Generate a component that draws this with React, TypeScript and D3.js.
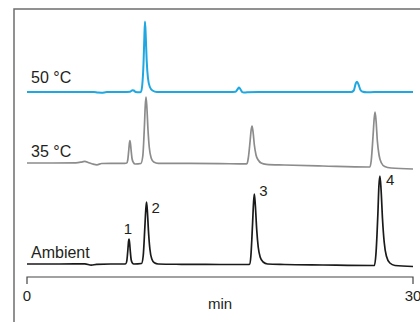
import React from "react";
import * as d3 from "d3";

// Time (min), signal (relative units above each trace's baseline)
const ambientPoints: [number, number][] = [
  [0, 0], [2.5, 0], [4.5, 0.2], [5.0, -1.2], [5.4, -0.3], [6.5, 0], [7.5, 0],
  [7.68, 0.3], [7.76, 3.4], [7.845, 15], [7.89, 22.5], [7.93, 25], [7.975, 21], [8.02, 14], [8.1, 4], [8.2, 0.8], [8.3, 0],
  [8.9, 0.5], [9.03, 8], [9.16, 37], [9.23, 54], [9.29, 62], [9.36, 52], [9.44, 33], [9.55, 15], [9.7, 5], [9.9, 1.2], [10.2, 0],
  [12, -0.3], [15, -0.5], [17.2, -0.5],
  [17.3, -0.3], [17.4, 8], [17.53, 40], [17.61, 62], [17.67, 70], [17.75, 58], [17.85, 35], [17.97, 17], [18.12, 7], [18.35, 2], [18.7, 0],
  [20, -0.5], [23, -1], [26.9, -1.5],
  [27.0, -1.5], [27.12, 10], [27.27, 50], [27.35, 78], [27.43, 88], [27.52, 74], [27.63, 45], [27.76, 22], [27.93, 8], [28.2, 1], [28.6, -1.5],
  [30, -2.5],
];

const c35Points: [number, number][] = [
  [0, 0], [2, 0], [3.8, 0.2], [4.3, 1.2], [4.5, 1.7], [4.75, 0.5], [5.1, -1], [5.44, -1.8], [5.8, -0.5], [6.5, -0.3], [7.6, -0.3],
  [7.75, 0], [7.83, 3], [7.915, 13.5], [7.96, 20], [8.0, 22.5], [8.045, 19], [8.09, 13], [8.17, 4], [8.27, 0.5], [8.4, -1],
  [8.85, -0.5], [9.0, 7], [9.13, 38], [9.19, 57], [9.25, 66], [9.32, 55], [9.4, 34], [9.5, 16], [9.65, 5], [9.85, 1], [10.2, -0.3],
  [12, -0.3], [15, -0.6], [17.0, -0.9],
  [17.1, -0.5], [17.2, 5], [17.34, 22], [17.42, 33], [17.49, 37], [17.57, 31], [17.67, 18], [17.8, 8], [17.97, 3], [18.2, 0], [18.6, -1.3],
  [20, -2], [23, -3], [26.5, -4],
  [26.65, -4], [26.75, 2], [26.9, 28], [26.98, 44], [27.05, 51], [27.13, 42], [27.23, 22], [27.36, 8], [27.55, 0], [27.8, -3.5], [28.3, -5],
  [30, -6],
];

const c50Points: [number, number][] = [
  [0, 0], [5.2, 0], [5.5, -0.6], [5.8, -0.7], [6.2, -0.1], [7.5, 0], [8.0, 0.3], [8.2, 1.8], [8.3, 1.5], [8.45, 0], [8.7, -0.2],
  [8.85, 0], [8.95, 6], [9.06, 30], [9.12, 55], [9.17, 70.5], [9.23, 56], [9.3, 32], [9.4, 14], [9.55, 5], [9.75, 1.5], [10.1, 0],
  [15.8, 0], [16.2, 0.3], [16.38, 3], [16.48, 4.5], [16.6, 2.5], [16.72, 0], [16.85, -0.6], [17.1, -0.3], [18, 0],
  [25.2, 0], [25.4, 1.5], [25.55, 8.5], [25.65, 10.3], [25.78, 7], [25.92, 2], [26.1, 0.2], [26.4, -0.3], [27, 0], [30, 0],
];

const traceNames = ["Ambient", "35 °C", "50 °C"];
const traceOffsets = [0, 101, 172];
const traceColors = ["#1a1a1a", "#8c8c8c", "#1ea7e1"];

const peakLabels = ["1", "2", "3", "4"];
const peakTimes = [7.93, 9.29, 17.67, 27.43];
const peakHeights = [25, 62, 70, 88];

const xTicks = [0, 30];
const xLabel = "min";

const W = 420;
const H = 322;

export default function App() {
  const x = d3.scaleLinear().domain([0, 30]).range([27, 413]);
  const y = d3.scaleLinear().domain([0, 255]).range([264, 9]);
  const traces = [ambientPoints, c35Points, c50Points];
  const font = "'Liberation Sans', Arial, sans-serif";

  const paths = traces.map((pts, i) =>
    d3
      .line<[number, number]>()
      .x((d) => x(d[0]))
      .y((d) => y(d[1] + traceOffsets[i]))
      .curve(d3.curveMonotoneX)(pts) || ""
  );

  const labelY = [258, 157, 83];
  const labelDx = [[-1, -5], [5, 11], [5, 1.5], [6, 9]];

  return (
    <svg
      width={W}
      height={H}
      style={{ position: "absolute", left: 0, top: 0, background: "#fff" }}
    >
      {/* frame */}
      <path d={`M14,${H} L14,9 L${W},9`} fill="none" stroke="#6e6e6e" strokeWidth={1.5} />

      {paths.map((d, i) => (
        <path key={i} d={d} fill="none" stroke={traceColors[i]} strokeWidth={i === 2 ? 2 : 1.7} strokeLinejoin="round" />
      ))}

      {traceNames.map((n, i) => (
        <text key={n} x={31} y={labelY[i]} fontFamily={font} fontSize={16} fill="#231f20">
          {n}
        </text>
      ))}

      {peakLabels.map((p, i) => (
        <text
          key={p}
          x={x(peakTimes[i]) + labelDx[i][0]}
          y={y(peakHeights[i]) + labelDx[i][1]}
          fontFamily={font}
          fontSize={15}
          textAnchor={i === 0 ? "middle" : "start"}
          fill="#231f20"
        >
          {p}
        </text>
      ))}

      {/* x axis */}
      <path
        d={`M${x(0)},284 L${x(0)},277 L${x(30)},277 L${x(30)},284`}
        fill="none"
        stroke="#444"
        strokeWidth={1.2}
      />
      {xTicks.map((t) => (
        <text key={t} x={x(t)} y={301} textAnchor="middle" fontFamily={font} fontSize={15} fill="#231f20">
          {t}
        </text>
      ))}
      <text x={(x(0) + x(30)) / 2} y={309} textAnchor="middle" fontFamily={font} fontSize={15} fill="#231f20">
        {xLabel}
      </text>
    </svg>
  );
}
